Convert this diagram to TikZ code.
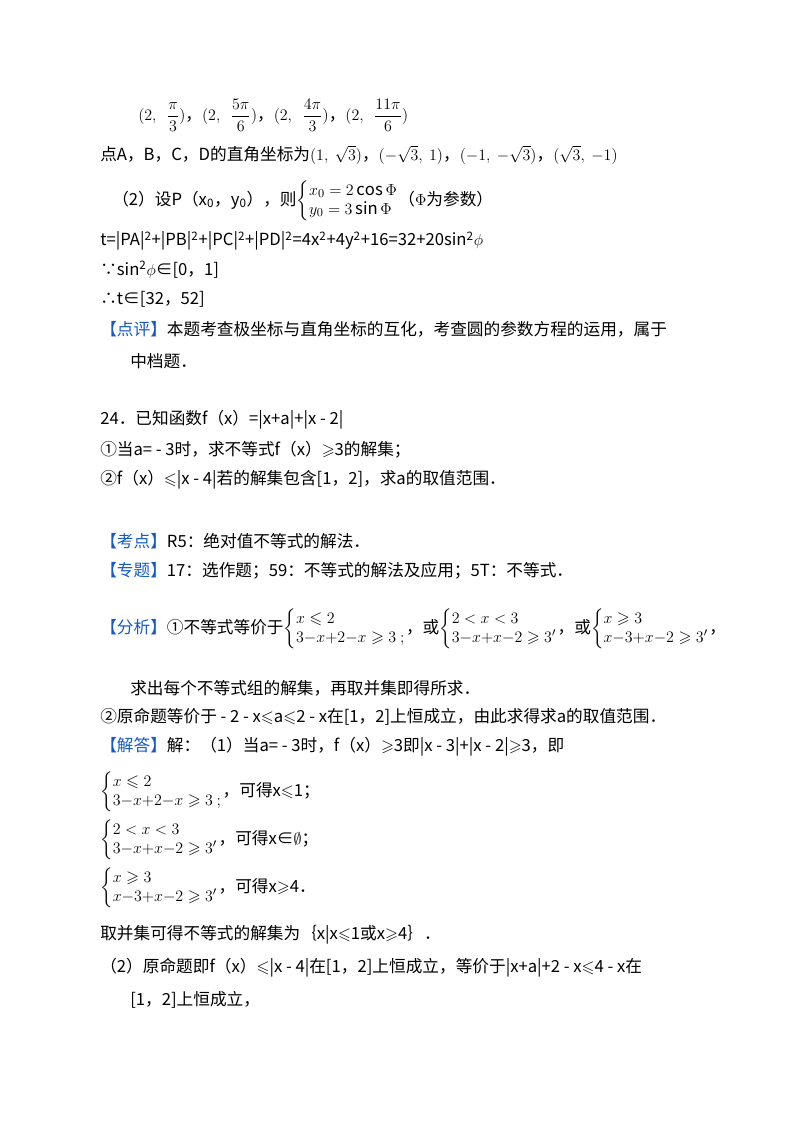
\documentclass[tikz,border=0pt]{standalone}
\usepackage{amsmath,amssymb}
\usepackage{fontspec}
\setmainfont{Noto Sans CJK SC}
\definecolor{hb}{RGB}{20,90,200}
\newcommand{\hl}[1]{\textcolor{hb}{【#1】}}
\newcommand{\sys}[2]{\left\{\renewcommand{\arraystretch}{0.95}\begin{array}{@{}l@{}}#1\\ #2\end{array}\right.}
\begin{document}
\begin{tikzpicture}[x=0.75pt,y=-0.75pt,
  ln/.style={anchor=west,inner sep=0pt,font=\fontsize{12.5}{15}\selectfont}]
\useasboundingbox (0,0) rectangle (800,1132);
\node[ln] (l1) at (138,115) {$(2,\ \ \dfrac{\pi}{3})$，$(2,\ \ \dfrac{5\pi}{6})$，$(2,\ \ \dfrac{4\pi}{3})$，$(2,\ \ \dfrac{11\pi}{6})$};
\node[ln] (l2) at (100,155) {点A，B，C，D的直角坐标为$(1,\ \sqrt{3})$，$(-\sqrt{3},\ 1)$，$(-1,\ -\sqrt{3})$，$(\sqrt{3},\ -1)$};
\node[ln] (l3) at (112,201) {（2）设P（x\textsubscript{0}，y\textsubscript{0}），则$\sys{x_0=2\cos\Phi}{y_0=3\sin\Phi}$（$\Phi$为参数）};
\node[ln] (l4) at (100,241) {t=|PA|\textsuperscript{2}+|PB|\textsuperscript{2}+|PC|\textsuperscript{2}+|PD|\textsuperscript{2}=4x\textsuperscript{2}+4y\textsuperscript{2}+16=32+20sin\textsuperscript{2}$\phi$};
\node[ln] (l5) at (100,270) {∵sin\textsuperscript{2}$\phi$∈[0，1]};
\node[ln] (l6) at (100,299) {∴t∈[32，52]};
\node[ln] (l7) at (100,329) {\hl{点评}本题考查极坐标与直角坐标的互化，考查圆的参数方程的运用，属于};
\node[ln] (l8) at (130,361) {中档题．};
\node[ln] (l9) at (100,420) {24．已知函数f（x）=|x+a|+|x - 2|};
\node[ln] (l10) at (100,450) {①当a= - 3时，求不等式f（x）$\geqslant$3的解集；};
\node[ln] (l11) at (100,480) {②f（x）$\leqslant$|x - 4|若的解集包含[1，2]，求a的取值范围．};
\node[ln] (l12) at (100,541) {\hl{考点}R5：绝对值不等式的解法．};
\node[ln] (l13) at (100,571) {\hl{专题}17：选作题；59：不等式的解法及应用；5T：不等式．};
\node[ln] (l14) at (100,629) {\hl{分析}①不等式等价于$\sys{x\leqslant 2}{3{-}x{+}2{-}x\geqslant 3\ ;}$，或$\sys{2<x<3}{3{-}x{+}x{-}2\geqslant 3'}$，或$\sys{x\geqslant 3}{x{-}3{+}x{-}2\geqslant 3'}$，};
\node[ln] (l15) at (130,688) {求出每个不等式组的解集，再取并集即得所求．};
\node[ln] (l16) at (100,717) {②原命题等价于 - 2 - x$\leqslant$a$\leqslant$2 - x在[1，2]上恒成立，由此求得求a的取值范围．};
\node[ln] (l17) at (100,747) {\hl{解答}解：（1）当a= - 3时，f（x）$\geqslant$3即|x - 3|+|x - 2|$\geqslant$3，即};
\node[ln] (l18) at (100,792) {$\sys{x\leqslant 2}{3{-}x{+}2{-}x\geqslant 3\ ;}$，可得x$\leqslant$1；};
\node[ln] (l19) at (100,840) {$\sys{2<x<3}{3{-}x{+}x{-}2\geqslant 3'}$，可得x∈$\emptyset$；};
\node[ln] (l20) at (100,888) {$\sys{x\geqslant 3}{x{-}3{+}x{-}2\geqslant 3'}$，可得x$\geqslant$4．};
\node[ln] (l21) at (100,935) {取并集可得不等式的解集为｛x|x$\leqslant$1或x$\geqslant$4｝．};
\node[ln] (l22) at (100,968) {（2）原命题即f（x）$\leqslant$|x - 4|在[1，2]上恒成立，等价于|x+a|+2 - x$\leqslant$4 - x在};
\node[ln] (l23) at (130,1000) {[1，2]上恒成立，};
\end{tikzpicture}
\end{document}
